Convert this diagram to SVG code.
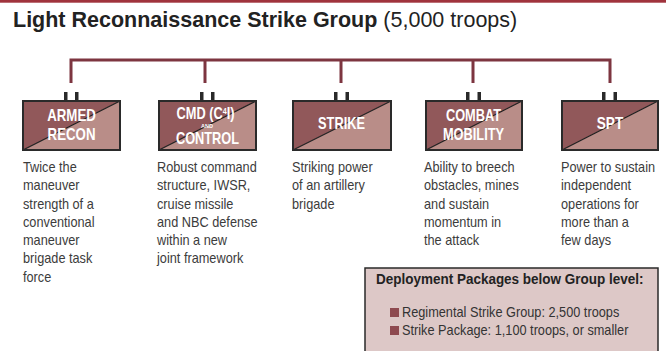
<svg xmlns="http://www.w3.org/2000/svg" width="666" height="351" viewBox="0 0 666 351">
<defs>
<style>
.title{font-family:"Liberation Sans",Arial,sans-serif;font-size:21.5px;fill:#222}
.lbl{font-family:"Liberation Sans",Arial,sans-serif;font-weight:bold;font-size:16px;fill:#fff;text-anchor:middle}
.and{font-family:"Liberation Sans",Arial,sans-serif;font-weight:bold;font-size:5.5px;fill:#fff;text-anchor:middle}
.desc{font-family:"Liberation Sans",Arial,sans-serif;font-size:14px;fill:#3c3c3c}
.dk{fill:#91585a}
.lt{fill:#b98d88}
.frame{fill:none;stroke:#2a2a2a;stroke-width:2}
.diag{stroke:#1e1e1e;stroke-width:1.2}
.tick{fill:#2a2a2a}
.conn{fill:none;stroke:#7d3540;stroke-width:3}
.dep{font-family:"Liberation Sans",Arial,sans-serif;font-size:14px;fill:#333}
.deph{font-family:"Liberation Sans",Arial,sans-serif;font-size:15px;font-weight:bold;fill:#222}
</style>
</defs>
<rect x="0" y="0" width="666" height="351" fill="#fff"/>
<rect x="0" y="0" width="666" height="2.7" fill="#a0333c"/>
<text class="title" x="13" y="27"><tspan font-weight="bold">Light Reconnaissance Strike Group</tspan> (5,000 troops)</text>

<g id="connectors">
<path class="conn" d="M71,83 L71,60 L610,60 L610,83 M205,60 L205,83 M341,60 L341,83 M473,60 L473,83"/>
</g>

<g id="node-armed-recon">
<rect class="tick" x="64" y="92" width="3.5" height="9"/>
<rect class="tick" x="75" y="92" width="3.5" height="9"/>
<polygon class="dk" points="23,101 120,101 23,150"/>
<polygon class="lt" points="120,101 120,150 23,150"/>
<line class="diag" x1="23" y1="150" x2="120" y2="101"/>
<rect class="frame" x="23" y="101" width="97" height="49"/>
<g transform="translate(71.5,0) scale(0.83,1)">
<text class="lbl" x="0" y="121">ARMED</text>
<text class="lbl" x="0" y="140">RECON</text>
</g>
<g transform="translate(23,0) scale(0.91,1)">
<text class="desc" x="0" y="172">Twice the</text>
<text class="desc" x="0" y="190.3">maneuver</text>
<text class="desc" x="0" y="208.6">strength of a</text>
<text class="desc" x="0" y="226.9">conventional</text>
<text class="desc" x="0" y="245.2">maneuver</text>
<text class="desc" x="0" y="263.5">brigade task</text>
<text class="desc" x="0" y="281.8">force</text>
</g>
</g>

<g id="node-cmd-control">
<rect class="tick" x="200" y="92" width="3.5" height="9"/>
<rect class="tick" x="211" y="92" width="3.5" height="9"/>
<polygon class="dk" points="159,101 256,101 159,150"/>
<polygon class="lt" points="256,101 256,150 159,150"/>
<line class="diag" x1="159" y1="150" x2="256" y2="101"/>
<rect class="frame" x="159" y="101" width="97" height="49"/>
<g transform="translate(205.5,0) scale(0.8,1)">
<text class="lbl" x="0" y="119">CMD (C<tspan style="font-size:9px" dy="-5">4</tspan><tspan dy="5">I)</tspan></text>
</g>
<text class="and" x="207" y="128">AND</text>
<g transform="translate(207.5,0) scale(0.8,1)">
<text class="lbl" x="0" y="144">CONTROL</text>
</g>
<g transform="translate(157,0) scale(0.91,1)">
<text class="desc" x="0" y="172">Robust command</text>
<text class="desc" x="0" y="190.3">structure, IWSR,</text>
<text class="desc" x="0" y="208.6">cruise missile</text>
<text class="desc" x="0" y="226.9">and NBC defense</text>
<text class="desc" x="0" y="245.2">within a new</text>
<text class="desc" x="0" y="263.5">joint framework</text>
</g>
</g>

<g id="node-strike">
<rect class="tick" x="334" y="92" width="3.5" height="9"/>
<rect class="tick" x="345.5" y="92" width="3.5" height="9"/>
<polygon class="dk" points="293,101 391,101 293,150"/>
<polygon class="lt" points="391,101 391,150 293,150"/>
<line class="diag" x1="293" y1="150" x2="391" y2="101"/>
<rect class="frame" x="293" y="101" width="98" height="49"/>
<g transform="translate(341.5,0) scale(0.8,1)">
<text class="lbl" x="0" y="129">STRIKE</text>
</g>
<g transform="translate(292,0) scale(0.91,1)">
<text class="desc" x="0" y="172">Striking power</text>
<text class="desc" x="0" y="190.3">of an artillery</text>
<text class="desc" x="0" y="208.6">brigade</text>
</g>
</g>

<g id="node-combat-mobility">
<rect class="tick" x="466" y="92" width="3.5" height="9"/>
<rect class="tick" x="477.5" y="92" width="3.5" height="9"/>
<polygon class="dk" points="426,101 522,101 426,150"/>
<polygon class="lt" points="522,101 522,150 426,150"/>
<line class="diag" x1="426" y1="150" x2="522" y2="101"/>
<rect class="frame" x="426" y="101" width="96" height="49"/>
<g transform="translate(473.5,0) scale(0.8,1)">
<text class="lbl" x="0" y="121">COMBAT</text>
<text class="lbl" x="0" y="140">MOBILITY</text>
</g>
<g transform="translate(424,0) scale(0.91,1)">
<text class="desc" x="0" y="172">Ability to breech</text>
<text class="desc" x="0" y="190.3">obstacles, mines</text>
<text class="desc" x="0" y="208.6">and sustain</text>
<text class="desc" x="0" y="226.9">momentum in</text>
<text class="desc" x="0" y="245.2">the attack</text>
</g>
</g>

<g id="node-spt">
<rect class="tick" x="602" y="92" width="3.5" height="9"/>
<rect class="tick" x="613.5" y="92" width="3.5" height="9"/>
<polygon class="dk" points="562,101 658,101 562,150"/>
<polygon class="lt" points="658,101 658,150 562,150"/>
<line class="diag" x1="562" y1="150" x2="658" y2="101"/>
<rect class="frame" x="562" y="101" width="96" height="49"/>
<g transform="translate(610,0) scale(0.85,1)">
<text class="lbl" x="0" y="129">SPT</text>
</g>
<g transform="translate(561,0) scale(0.91,1)">
<text class="desc" x="0" y="172">Power to sustain</text>
<text class="desc" x="0" y="190.3">independent</text>
<text class="desc" x="0" y="208.6">operations for</text>
<text class="desc" x="0" y="226.9">more than a</text>
<text class="desc" x="0" y="245.2">few days</text>
</g>
</g>

<g id="deployment-packages">
<rect x="365" y="268" width="293" height="95" fill="#ddc8c7" stroke="#2a2a2a" stroke-width="1.5"/>
<g transform="translate(376,0) scale(0.9,1)">
<text class="deph" x="0" y="284">Deployment Packages below Group level:</text>
</g>
<rect x="390" y="308" width="9" height="9" fill="#8e4a50"/>
<rect x="390" y="326" width="9" height="9" fill="#8e4a50"/>
<g transform="translate(402,0) scale(0.91,1)">
<text class="dep" x="0" y="317">Regimental Strike Group: 2,500 troops</text>
<text class="dep" x="0" y="335">Strike Package: 1,100 troops, or smaller</text>
</g>
</g>
</svg>
